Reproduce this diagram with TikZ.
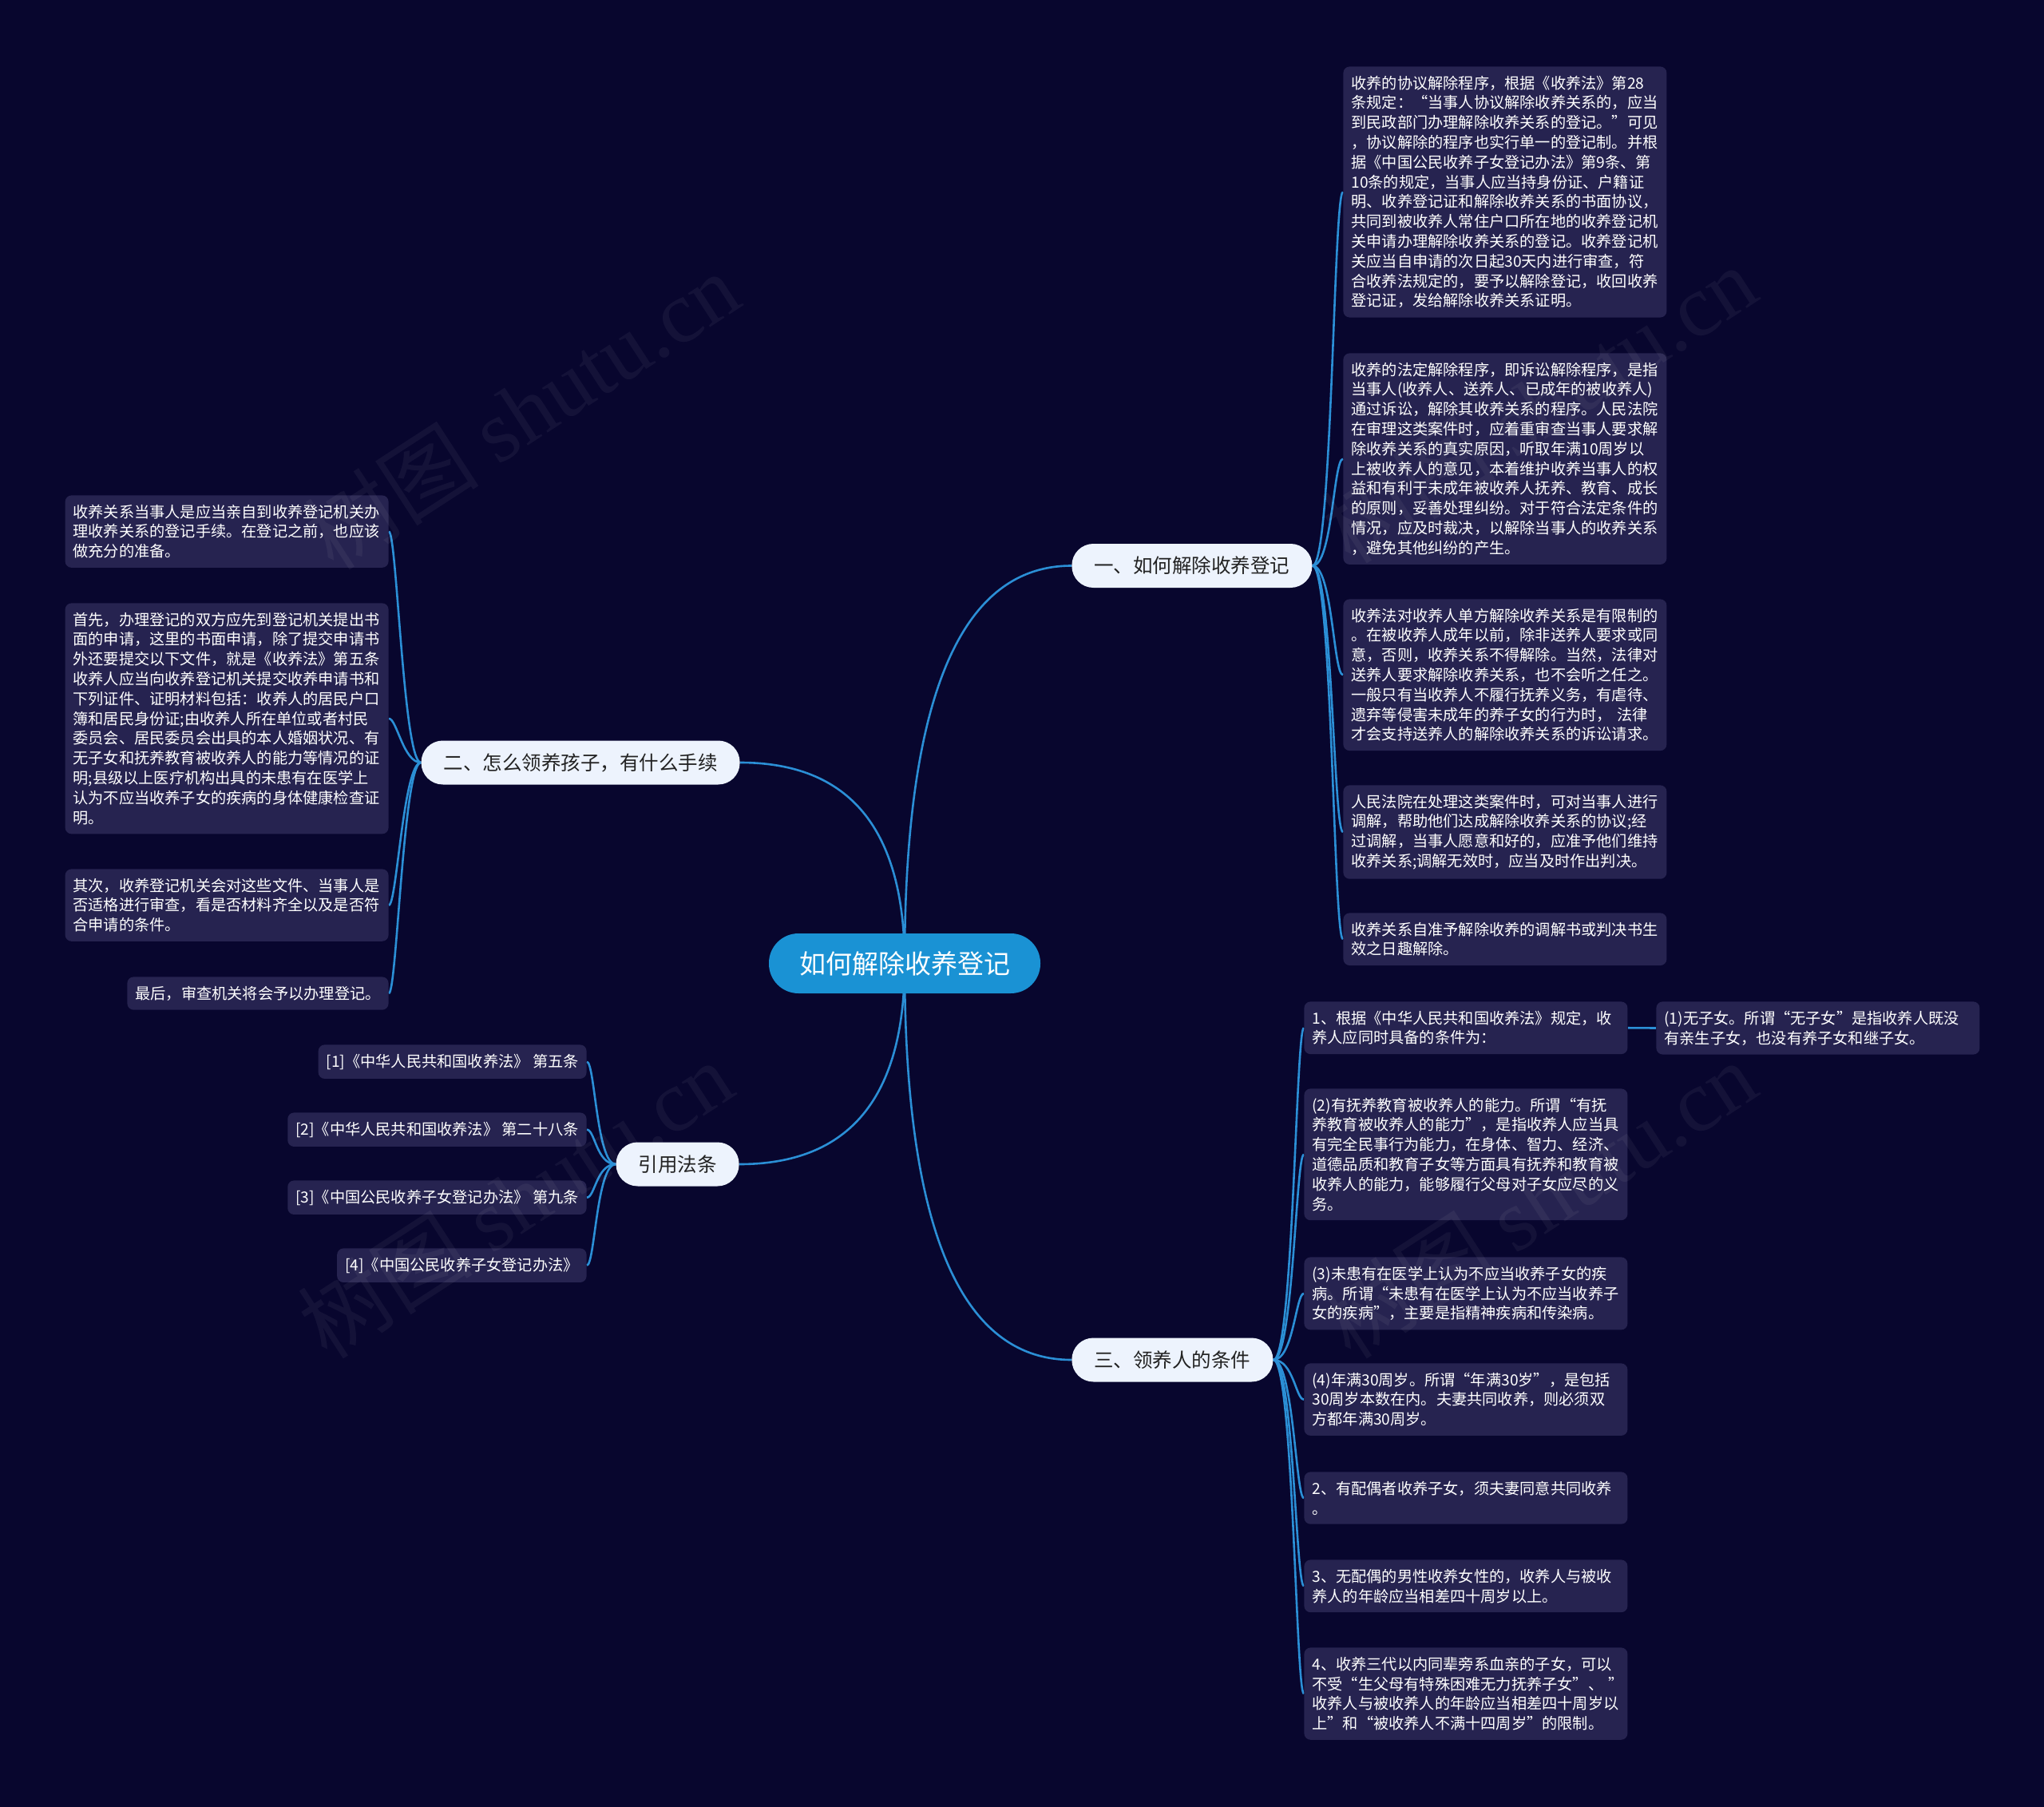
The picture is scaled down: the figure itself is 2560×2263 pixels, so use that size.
\documentclass[tikz,border=0pt]{standalone}
\usepackage{fontspec}
\setmainfont{Noto Sans CJK SC}
\newfontfamily\wmfont{Liberation Serif}
\usetikzlibrary{calc}
\definecolor{bgc}{HTML}{08062E}
\definecolor{boxc}{HTML}{262350}
\definecolor{linec}{HTML}{2B8FD6}
\definecolor{rootc}{HTML}{1A92D4}
\definecolor{branchc}{HTML}{EDF3FD}
\definecolor{darktext}{HTML}{222222}
\pgfdeclarelayer{bg}
\pgfsetlayers{bg,main}
\tikzset{
  conn/.style={draw=linec, line width=1.3pt},
  leaf/.style={fill=boxc, rounded corners=4pt, text=white, align=left, text width=192.5pt,
    inner xsep=5pt, inner ysep=5.75pt, font=\fontsize{9.6}{12.4}\selectfont},
  leafn/.style={fill=boxc, rounded corners=4pt, text=white,
    inner xsep=5pt, inner ysep=5.75pt, font=\fontsize{9.6}{12.4}\selectfont},
  branch/.style={fill=branchc, rounded corners=13.5pt, text=darktext, inner xsep=14pt,
    minimum height=27.5pt, font=\fontsize{12.25}{14}\selectfont},
  root/.style={fill=rootc, rounded corners=18.5pt, text=white, inner xsep=19pt,
    minimum height=37.5pt, font=\fontsize{16.5}{18}\selectfont},
  wm/.style={text=white, opacity=0.05, font=\fontsize{55}{60}\selectfont}
}
\begin{document}
\begin{tikzpicture}[x=0.5pt,y=-0.5pt]
\begin{pgfonlayer}{bg}
\fill[bgc] (0,0) rectangle (2560,2263);
\end{pgfonlayer}
\useasboundingbox (0,0) rectangle (2560,2263);

% root and branches
\node[root] (c) at (1133,1206.5) {如何解除收养登记};
\node[branch, anchor=west] (b1) at (1342,708.5) {一、如何解除收养登记};
\node[branch, anchor=east] (b2) at (927,955) {二、怎么领养孩子，有什么手续};
\node[branch, anchor=east] (b3) at (926,1458) {引用法条};
\node[branch, anchor=west] (b4) at (1342,1703) {三、领养人的条件};

% branch 1 leaves
\node[leaf, anchor=north west] (r1) at (1682,83) {收养的协议解除程序，根据《收养法》第28\\条规定：“当事人协议解除收养关系的，应当\\到民政部门办理解除收养关系的登记。”可见\\，协议解除的程序也实行单一的登记制。并根\\据《中国公民收养子女登记办法》第9条、第\\10条的规定，当事人应当持身份证、户籍证\\明、收养登记证和解除收养关系的书面协议，\\共同到被收养人常住户口所在地的收养登记机\\关申请办理解除收养关系的登记。收养登记机\\关应当自申请的次日起30天内进行审查，符\\合收养法规定的，要予以解除登记，收回收养\\登记证，发给解除收养关系证明。};
\node[leaf, anchor=north west] (r2) at (1682,442) {收养的法定解除程序，即诉讼解除程序，是指\\当事人(收养人、送养人、已成年的被收养人)\\通过诉讼，解除其收养关系的程序。人民法院\\在审理这类案件时，应着重审查当事人要求解\\除收养关系的真实原因，听取年满10周岁以\\上被收养人的意见，本着维护收养当事人的权\\益和有利于未成年被收养人抚养、教育、成长\\的原则，妥善处理纠纷。对于符合法定条件的\\情况，应及时裁决，以解除当事人的收养关系\\，避免其他纠纷的产生。};
\node[leaf, anchor=north west] (r3) at (1682,750) {收养法对收养人单方解除收养关系是有限制的\\。在被收养人成年以前，除非送养人要求或同\\意，否则，收养关系不得解除。当然，法律对\\送养人要求解除收养关系，也不会听之任之。\\一般只有当收养人不履行抚养义务，有虐待、\\遗弃等侵害未成年的养子女的行为时，~法律\\才会支持送养人的解除收养关系的诉讼请求。};
\node[leaf, anchor=north west] (r4) at (1682,983) {人民法院在处理这类案件时，可对当事人进行\\调解，帮助他们达成解除收养关系的协议;经\\过调解，当事人愿意和好的，应准予他们维持\\收养关系;调解无效时，应当及时作出判决。};
\node[leaf, anchor=north west] (r5) at (1682,1143) {收养关系自准予解除收养的调解书或判决书生\\效之日趣解除。};

% branch 2 leaves
\node[leaf, anchor=north east] (l1) at (487,620) {收养关系当事人是应当亲自到收养登记机关办\\理收养关系的登记手续。在登记之前，也应该\\做充分的准备。};
\node[leaf, anchor=north east] (l2) at (487,755) {首先，办理登记的双方应先到登记机关提出书\\面的申请，这里的书面申请，除了提交申请书\\外还要提交以下文件，就是《收养法》第五条\\收养人应当向收养登记机关提交收养申请书和\\下列证件、证明材料包括：收养人的居民户口\\簿和居民身份证;由收养人所在单位或者村民\\委员会、居民委员会出具的本人婚姻状况、有\\无子女和抚养教育被收养人的能力等情况的证\\明;县级以上医疗机构出具的未患有在医学上\\认为不应当收养子女的疾病的身体健康检查证\\明。};
\node[leaf, anchor=north east] (l3) at (487,1088) {其次，收养登记机关会对这些文件、当事人是\\否适格进行审查，看是否材料齐全以及是否符\\合申请的条件。};
\node[leafn, anchor=north east] (l4) at (487,1223) {最后，审查机关将会予以办理登记。};

% branch 3 leaves
\node[leafn, anchor=north east] (f1) at (735,1308) {[1]《中华人民共和国收养法》~第五条};
\node[leafn, anchor=north east] (f2) at (735,1393) {[2]《中华人民共和国收养法》~第二十八条};
\node[leafn, anchor=north east] (f3) at (735,1478) {[3]《中国公民收养子女登记办法》~第九条};
\node[leafn, anchor=north east] (f4) at (735,1563) {[4]《中国公民收养子女登记办法》};

% branch 4 leaves
\node[leaf, anchor=north west] (k1) at (1633,1254) {1、根据《中华人民共和国收养法》规定，收\\养人应同时具备的条件为：};
\node[leaf, anchor=north west] (k1b) at (2074,1254) {(1)无子女。所谓“无子女”是指收养人既没\\有亲生子女，也没有养子女和继子女。};
\node[leaf, anchor=north west] (k2) at (1633,1363) {(2)有抚养教育被收养人的能力。所谓“有抚\\养教育被收养人的能力”，是指收养人应当具\\有完全民事行为能力，在身体、智力、经济、\\道德品质和教育子女等方面具有抚养和教育被\\收养人的能力，能够履行父母对子女应尽的义\\务。};
\node[leaf, anchor=north west] (k3) at (1633,1574) {(3)未患有在医学上认为不应当收养子女的疾\\病。所谓“未患有在医学上认为不应当收养子\\女的疾病”，主要是指精神疾病和传染病。};
\node[leaf, anchor=north west] (k4) at (1633,1707) {(4)年满30周岁。所谓“年满30岁”，是包括\\30周岁本数在内。夫妻共同收养，则必须双\\方都年满30周岁。};
\node[leaf, anchor=north west] (k5) at (1633,1843) {2、有配偶者收养子女，须夫妻同意共同收养\\。};
\node[leaf, anchor=north west] (k6) at (1633,1953) {3、无配偶的男性收养女性的，收养人与被收\\养人的年龄应当相差四十周岁以上。};
\node[leaf, anchor=north west] (k7) at (1633,2063) {4、收养三代以内同辈旁系血亲的子女，可以\\不受“生父母有特殊困难无力抚养子女”、~”\\收养人与被收养人的年龄应当相差四十周岁以\\上”和“被收养人不满十四周岁”的限制。};

% connectors
\begin{pgfonlayer}{bg}
\draw[conn] (c.center) .. controls ($(c.center)!0.667!(c.center|-b1.west)$)
    and ($(b1.west)!0.667!(c.center|-b1.west)$) .. (b1.west);
\draw[conn] (c.center) .. controls ($(c.center)!0.667!(c.center|-b2.east)$)
    and ($(b2.east)!0.667!(c.center|-b2.east)$) .. (b2.east);
\draw[conn] (c.center) .. controls ($(c.center)!0.667!(c.center|-b3.east)$)
    and ($(b3.east)!0.667!(c.center|-b3.east)$) .. (b3.east);
\draw[conn] (c.center) .. controls ($(c.center)!0.667!(c.center|-b4.west)$)
    and ($(b4.west)!0.667!(c.center|-b4.west)$) .. (b4.west);
\foreach \n in {r1,r2,r3,r4,r5}{
  \draw[conn] (b1.east) .. controls +(25,0) and +(-12,0) .. (\n.west);
}
\foreach \n in {l1,l2,l3,l4}{
  \draw[conn] (b2.west) .. controls +(-22,0) and +(10,0) .. (\n.east);
}
\foreach \n in {f1,f2,f3,f4}{
  \draw[conn] (b3.west) .. controls +(-24,0) and +(10,0) .. (\n.east);
}
\foreach \n in {k1,k2,k3,k4,k5,k6,k7}{
  \draw[conn] (b4.east) .. controls +(25,0) and +(-10,0) .. (\n.west);
}
\draw[conn] (k1.east) -- (k1b.west);
\end{pgfonlayer}

% watermarks
\node[wm, rotate=33] (wm1) at (653,514) {树图 {\wmfont shutu.cn}};
\node[wm, rotate=33] (wm2) at (1927,506) {树图 {\wmfont shutu.cn}};
\node[wm, rotate=33] (wm3) at (645,1502) {树图 {\wmfont shutu.cn}};
\node[wm, rotate=33] (wm4) at (1927,1502) {树图 {\wmfont shutu.cn}};
\end{tikzpicture}
\end{document}
